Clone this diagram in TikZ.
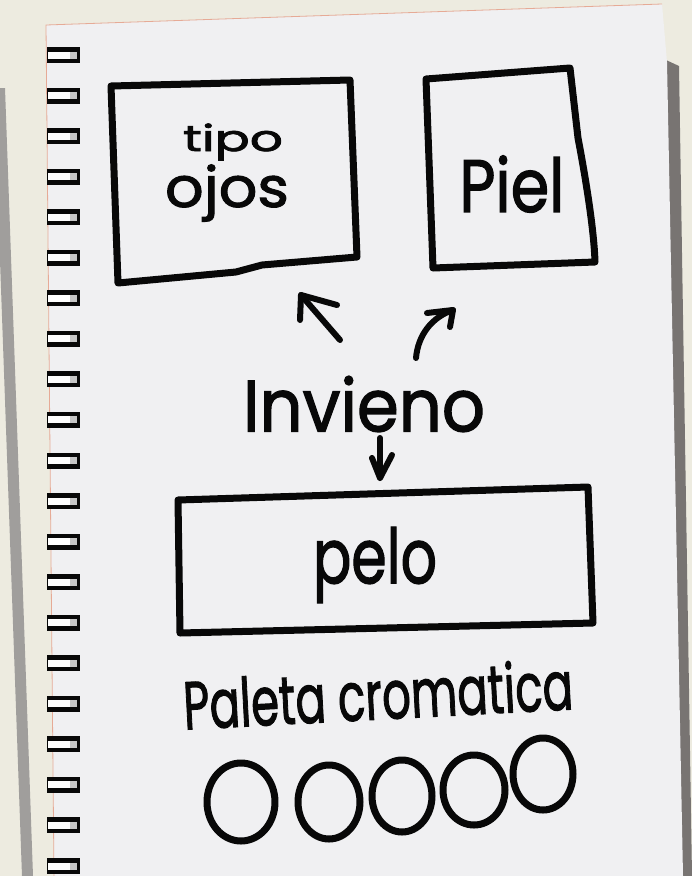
\documentclass[tikz,border=0pt]{standalone}
\usepackage{fontspec}
\setmainfont{Poppins}[FakeBold=1.8]
\usepackage{graphicx}
\definecolor{bgc}{RGB}{237,235,224}
\definecolor{pagec}{RGB}{240,240,242}
\definecolor{shadowc}{RGB}{120,116,114}
\definecolor{edgec}{RGB}{230,170,150}
\definecolor{inkc}{RGB}{8,8,8}
\begin{document}
\begin{tikzpicture}[x=1pt,y=-1pt,
  ink/.style={line width=7pt, line cap=round, line join=round, draw=inkc},
  arr/.style={line width=6pt, line cap=round, line join=round, draw=inkc},
  lbl/.style={inner sep=0pt, outer sep=0pt, text=inkc},
  ring/.style={fill=inkc}]
\useasboundingbox (0,0) rectangle (692,876);
\fill[bgc] (0,0) rectangle (692,876);
% left shadow strip
\fill[shadowc!70] (0,88) -- (5,88) -- (33,876) -- (22,876) -- (0,260) -- cycle;
% right shadow strip
\fill[shadowc] (666,60) -- (679,66) -- (692,876) -- (682,876) -- cycle;
% page
\fill[pagec] (46,25) -- (662,4) -- (667,62) -- (683,876) -- (54,876) -- cycle;
\draw[edgec, line width=0.8pt] (54,876) -- (46,25) -- (662,4);
% spiral rings
\foreach \i in {0,...,20}{
  \pgfmathsetmacro{\c}{55+40.55*\i}
  \fill[ring] (47,\c-8) rectangle (80,\c+8);
  \fill[white] (48,\c-3.5) rectangle (77,\c+3.5);
  \fill[gray!45] (70,\c-3.5) rectangle (77,\c+3.5);
}
% ---- boxes ----
\draw[ink] (111,86) -- (350,80) -- (357,257) -- (262,265) -- (236,272) -- (118,283) -- cycle;
\draw[ink] (426,79) -- (570,68) -- (578,138) .. controls (586,180) and (594,230) .. (595,262) -- (433,268) -- cycle;
\draw[ink] (178,500) -- (588,487) -- (593,623) -- (180,633) -- cycle;
% ---- texts ----
\node[lbl] (tipo) at (233,142) {\resizebox*{100pt}{37pt}{tipo}};
\node[lbl] (ojos) at (227,193) {\resizebox*{124pt}{57pt}{ojos}};
\node[lbl] (piel) at (512,184) {\resizebox*{105pt}{57pt}{Piel}};
\node[lbl] (invieno) at (364,404) {\resizebox*{242pt}{56pt}{Invieno}};
\node[lbl] (pelo) at (375,565) {\resizebox*{124pt}{76pt}{pelo}};
\node[lbl, rotate=3] (paleta) at (378,694) {\resizebox*{390pt}{52pt}{Paleta cromatica}};
% ---- arrows ----
\coordinate (a1s) at (340,340); \coordinate (a1t) at (301,295);
\coordinate (a2s) at (416,358); \coordinate (a2t) at (453,310);
\coordinate (a3s) at (380,438); \coordinate (a3t) at (380,478);
\draw[arr] (a1s) -- (a1t);
\draw[arr] (337,305) -- (a1t) -- (300,320);
\draw[arr] (a2s) .. controls (418,335) and (432,317) .. (a2t);
\draw[arr] (427,313) -- (a2t) -- (450,327);
\draw[arr] (a3s) -- (a3t);
\draw[arr] (372,458) -- (a3t) -- (392,455);
% ---- palette circles ----
\draw[ink] (241,802) ellipse [x radius=34, y radius=39];
\draw[ink] (329,802) ellipse [x radius=31, y radius=37];
\draw[ink] (402,796) ellipse [x radius=30, y radius=36];
\draw[ink] (474,790) ellipse [x radius=31, y radius=35];
\draw[ink] (543,774) ellipse [x radius=30, y radius=36];
\end{tikzpicture}
\end{document}
